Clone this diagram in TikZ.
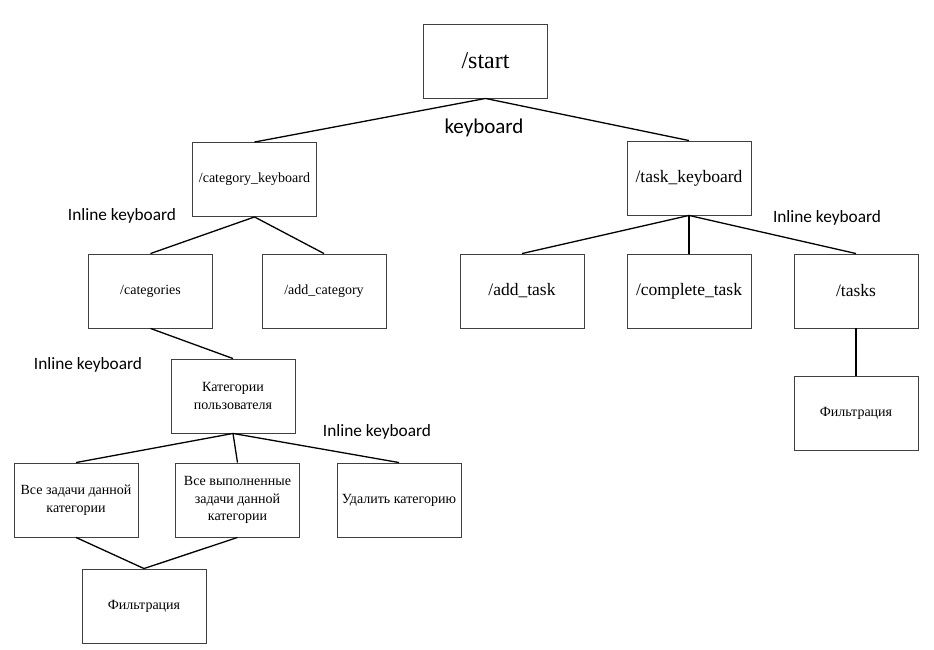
\documentclass[tikz,border=0pt]{standalone}
\usepackage{fontspec}
\setmainfont{Liberation Serif}
\newfontfamily\labelfont{Carlito}

\begin{document}
\begin{tikzpicture}[x=1pt, y=-1pt,
    block/.style={rectangle, draw=black!75, line width=0.9pt, minimum width=124pt, minimum height=74pt, inner sep=2pt, align=center, font=\fontsize{14}{17.7}\selectfont},
    bigblock/.style={block, font=\fontsize{17.5}{21}\selectfont},
    edge/.style={line width=1.3pt},
    kb/.style={font=\labelfont\fontsize{17.3}{20}\selectfont}]

\useasboundingbox (0,0) rectangle (934,650);

% The root
\node[block, font=\fontsize{24}{28}\selectfont] (start) at (485.5,61) {/start};

% the two keyboards
\node[block] (catkb) at (254.5,179.5) {/category\_keyboard};
\node[bigblock] (taskkb) at (689,178) {/task\_keyboard};

% category branch
\node[block] (cats) at (150.5,291) {/categories};
\node[block] (addcat) at (324,291) {/add\_category};
\node[block] (usercats) at (233,396) {Категории\\пользователя};
\node[block] (alltasks) at (76,500) {Все задачи данной\\категории};
\node[block] (donetasks) at (237.5,500) {Все выполненные\\задачи данной\\категории};
\node[block] (delcat) at (399,500) {Удалить категорию};
\node[block] (filterleft) at (144,606) {Фильтрация};

% task branch
\node[bigblock] (addtask) at (522,291) {/add\_task};
\node[bigblock] (donetask) at (689,291) {/complete\_task};
\node[bigblock] (tasks) at (856,291) {/tasks};
\node[block] (filterright) at (856,413) {Фильтрация};

% connect parent to child
\foreach \a/\b in {start/catkb, start/taskkb, catkb/cats, catkb/addcat, cats/usercats,
    usercats/alltasks, usercats/donetasks, usercats/delcat, alltasks/filterleft, donetasks/filterleft,
    taskkb/addtask, taskkb/donetask, taskkb/tasks, tasks/filterright} {
    \draw[edge] (\a.south) -- (\b.north);
}

% and the keyboard labels
\node[kb, font=\labelfont\fontsize{21}{24}\selectfont] (kbmain) at (484,128) {keyboard};
\node[kb] (kbcat) at (122,216) {Inline keyboard};
\node[kb] (kbtask) at (827,218) {Inline keyboard};
\node[kb] (kbcats) at (88,365) {Inline keyboard};
\node[kb] (kbuser) at (377,432) {Inline keyboard};
\end{tikzpicture}
\end{document}
